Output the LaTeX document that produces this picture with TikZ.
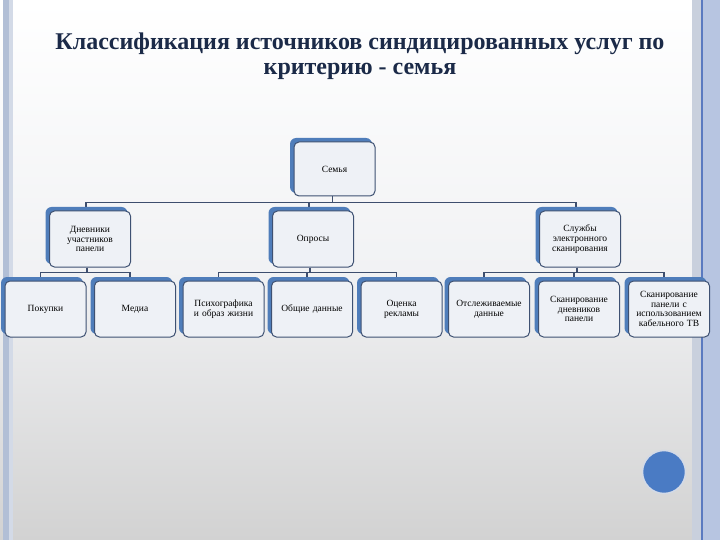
\documentclass[tikz,border=0pt]{standalone}
\usepackage{fontspec}
\setmainfont{Liberation Serif}
\usetikzlibrary{calc}
\pgfdeclarelayer{bgA}\pgfdeclarelayer{bgB}\pgfdeclarelayer{bgC}
\pgfsetlayers{bgA,bgB,bgC,main}
\definecolor{boxfill}{HTML}{EEF1F6}
\definecolor{boxline}{HTML}{3E5172}
\definecolor{blueback}{HTML}{4F7DBA}
\definecolor{connc}{HTML}{3D4E6E}
\definecolor{titlec}{HTML}{1B2A48}
\definecolor{stripeA}{HTML}{B2BFD6}
\definecolor{stripeB}{HTML}{D3DAE7}
\definecolor{stripeC}{HTML}{C9D0DD}
\definecolor{stripeD}{HTML}{B7C5E1}
\definecolor{stripeL}{HTML}{5A7AC0}
\definecolor{circc}{HTML}{4A7BC4}
\definecolor{bgbot}{HTML}{D2D2D2}
\definecolor{bgmid}{HTML}{F1F2F4}
\begin{document}
\begin{tikzpicture}[x=1pt,y=-1pt,
  box/.style={rounded corners=5pt, fill=boxfill, draw=boxline, line width=1pt,
    minimum width=81pt, minimum height=56pt, text width=79pt, align=center,
    inner sep=1pt, font=\fontsize{9.5}{9.8}\selectfont},
  conn/.style={draw=connc, line width=1.8pt},
  back/.style={fill=blueback, rounded corners=6pt}]
\useasboundingbox (0,0) rectangle (720,540);
\begin{pgfonlayer}{bgA}
  \shade[top color=white, bottom color=bgbot, middle color=bgmid] (0,0) rectangle (720,540);
  \fill[stripeA] (3,0) rectangle (9,540);
  \fill[stripeB] (9,0) rectangle (13,540);
  \fill[stripeC] (692,0) rectangle (701,540);
  \fill[stripeL] (701,0) rectangle (703,540);
  \fill[stripeD] (703,0) rectangle (720,540);
\end{pgfonlayer}

\node[font=\bfseries\fontsize{24}{24.5}\selectfont, text=titlec, align=center] (title) at (360,56)
  {Классификация источников синдицированных услуг по\\критерию - семья};

\node[box, minimum height=54pt] (fam) at (334.5,169) {Семья};

\node[box] (dn) at (90,239) {Дневники\\участников\\панели};
\node[box] (op) at (313,239) {Опросы};
\node[box] (sl) at (580,239) {Службы\\электронного\\сканирования};

\node[box] (pk) at (45.5,309) {Покупки};
\node[box] (md) at (135,309) {Медиа};
\node[box] (ps) at (223.5,309) {Психографика\\и образ жизни};
\node[box] (ob) at (312,309) {Общие данные};
\node[box] (oc) at (401.5,309) {Оценка\\рекламы};
\node[box] (ot) at (489,309) {Отслеживаемые\\данные};
\node[box] (sd) at (579,309) {Сканирование\\дневников\\панели};
\node[box] (sp) at (669,309) {Сканирование\\панели с\\использованием\\кабельного ТВ};

\begin{pgfonlayer}{bgC}
  \foreach \n in {fam,dn,op,sl,pk,md,ps,ob,oc,ot,sd,sp}
    \path[back] ([shift={(-3.5pt,3.5pt)}]\n.north west) rectangle ([shift={(-3.5pt,3.5pt)}]\n.south east);
\end{pgfonlayer}

\begin{pgfonlayer}{bgB}
  \foreach \c in {dn,op,sl}
    \draw[conn] ([xshift=-2pt]fam.south) -- ++(0,6) -| ([xshift=-4pt]\c.north);
  \foreach \c in {pk,md}
    \draw[conn] ([xshift=-3pt]dn.south) -- ++(0,5) -| ([xshift=-5pt]\c.north);
  \foreach \c in {ps,ob,oc}
    \draw[conn] ([xshift=-3pt]op.south) -- ++(0,5) -| ([xshift=-5pt]\c.north);
  \foreach \c in {ot,sd,sp}
    \draw[conn] ([xshift=-3pt]sl.south) -- ++(0,5) -| ([xshift=-5pt]\c.north);
\end{pgfonlayer}

\node[circle, fill=circc, draw=stripeB, line width=1.5pt, minimum size=43pt, inner sep=0pt] (dot) at (664,472) {};
\end{tikzpicture}
\end{document}
